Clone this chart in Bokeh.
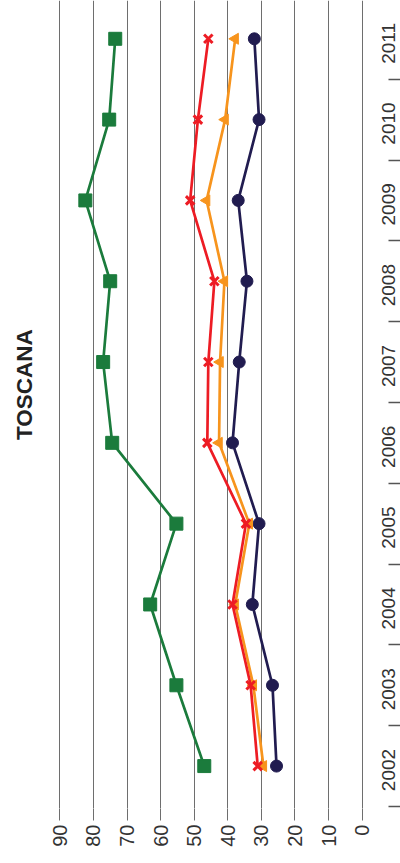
import math

from bokeh.embed import file_html
from bokeh.models import (CustomJSTickFormatter, FixedTicker, Label,
                          LinearAxis, Range1d)
from bokeh.plotting import figure
from bokeh.resources import INLINE

# Values per year (the chart is drawn turned a quarter turn: years run up the
# right edge, percentages run right-to-left along the bottom).
years = [2002, 2003, 2004, 2005, 2006, 2007, 2008, 2009, 2010, 2011]
serie_verde = [47.0, 55.3, 63.1, 55.3, 74.4, 77.1, 75.0, 82.4, 75.3, 73.5]
serie_blu = [25.5, 26.7, 32.7, 30.7, 38.6, 36.6, 34.3, 36.9, 30.7, 32.1]
serie_arancio = [29.4, 32.4, 37.8, 33.6, 42.6, 42.3, 41.0, 46.3, 40.8, 37.8]
serie_rossa = [31.1, 33.2, 38.6, 34.6, 46.1, 45.8, 44.0, 51.2, 48.9, 45.8]
value_ticks = [0, 10, 20, 30, 40, 50, 60, 70, 80, 90]
title_text = "TOSCANA"

GREEN = "#1b7b3c"
NAVY = "#211c50"
ORANGE = "#f7941d"
RED = "#ed1c24"
GRID = "#6e6e6e"
TEXT = "#333333"
FONT = "Liberation Sans"

p = figure(
    width=400, height=863,
    x_range=Range1d(107.65, -11.40),
    y_range=Range1d(2001.475, 2011.474),
    x_axis_location=None, y_axis_location=None,
    toolbar_location=None, output_backend="svg",
    min_border_left=0, min_border_right=0, min_border_top=0,
    min_border_bottom=55,
)
p.outline_line_color = None
p.background_fill_color = "white"
p.border_fill_color = "white"

# Percentage axis along the bottom, with its gridlines
xaxis = LinearAxis(ticker=FixedTicker(ticks=value_ticks, minor_ticks=[]))
xaxis.axis_line_color = None
xaxis.major_tick_in = 0
xaxis.major_tick_out = 12
xaxis.major_tick_line_color = GRID
xaxis.major_tick_line_width = 1
xaxis.minor_tick_line_color = None
xaxis.major_label_orientation = math.pi / 2
xaxis.major_label_standoff = 4
xaxis.major_label_text_font = FONT
xaxis.major_label_text_font_size = "20px"
xaxis.major_label_text_color = TEXT
p.add_layout(xaxis, "below")
p.xgrid.ticker = xaxis.ticker
p.xgrid.grid_line_color = GRID
p.xgrid.grid_line_width = 1
p.ygrid.grid_line_color = None

# Year axis on the right, pinned at value 0, with separators between years.
# Rotated labels start at their tick and run upwards, so each tick sits a
# little below its year to centre the text on it.
label_shift = 0.31
yaxis = LinearAxis(
    ticker=FixedTicker(ticks=[y - label_shift for y in years],
                       minor_ticks=[y + 0.5 for y in [2001] + years]),
    formatter=CustomJSTickFormatter(code="return String(Math.round(tick))"),
    fixed_location=0,
)
yaxis.axis_line_color = None
yaxis.major_tick_line_color = None
yaxis.major_tick_in = 0
yaxis.major_tick_out = 0
yaxis.minor_tick_in = -26
yaxis.minor_tick_out = 40
yaxis.minor_tick_line_color = "#555555"
yaxis.minor_tick_line_width = 1.5
yaxis.major_label_orientation = math.pi / 2
yaxis.major_label_standoff = -14
yaxis.major_label_text_font = FONT
yaxis.major_label_text_font_size = "19px"
yaxis.major_label_text_color = TEXT
p.add_layout(yaxis, "right")

# Series
p.line(serie_verde, years, line_color=GREEN, line_width=2.7)
p.scatter(serie_verde, years, marker="square", size=13, fill_color=GREEN, line_color=GREEN)

p.line(serie_blu, years, line_color=NAVY, line_width=2.7)
p.scatter(serie_blu, years, marker="circle", size=12, fill_color=NAVY, line_color=NAVY)

p.line(serie_arancio, years, line_color=ORANGE, line_width=2.7)
p.scatter(serie_arancio, years, marker="triangle", size=11, angle=math.pi / 2,
          fill_color=ORANGE, line_color=ORANGE)

p.line(serie_rossa, years, line_color=RED, line_width=2.7)
p.scatter(serie_rossa, years, marker="x", size=12, line_color=RED, line_width=3)

# Title running up the left side
p.add_layout(Label(
    x=100.5, y=2006.72, text=title_text, angle=math.pi / 2,
    text_align="center", text_baseline="middle",
    text_font=FONT, text_font_style="bold",
    text_font_size="22.5px", text_color="#222222",
))

open("out.html", "w").write(file_html(p, INLINE))
